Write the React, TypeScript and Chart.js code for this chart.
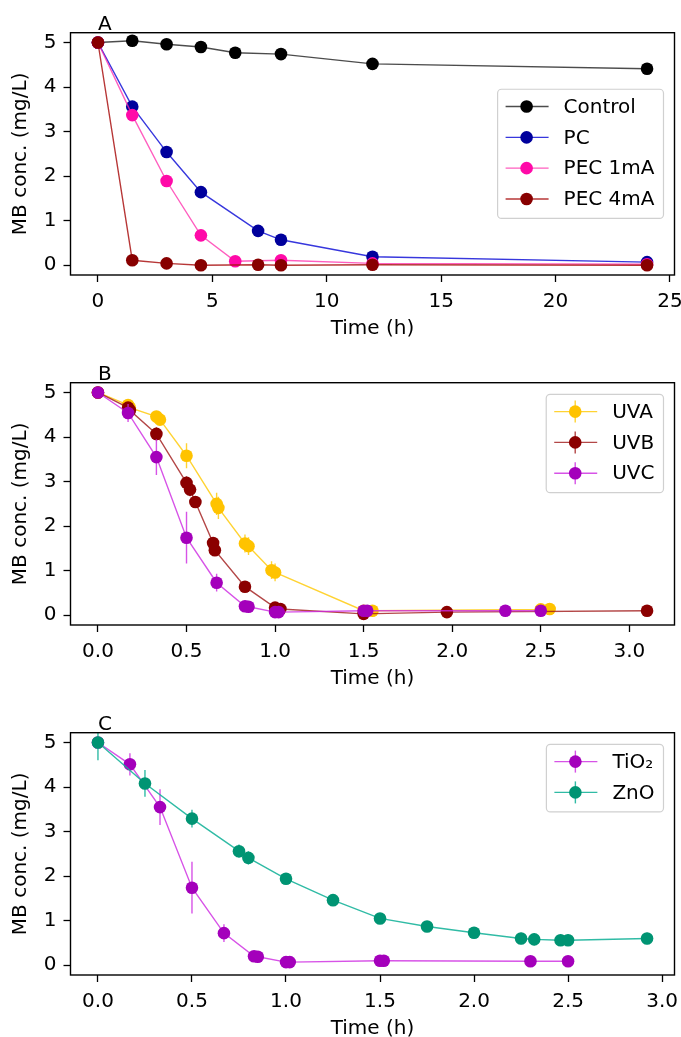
import React, { useEffect, useRef } from "react";
import { Chart, registerables } from "chart.js";

Chart.register(...registerables);

const FONT_FAMILY = "'DejaVu Sans', sans-serif";
const FONT_SIZE = 20;

// ---------- Panel A ----------
const timeControl = [0, 1.5, 3, 4.5, 6, 8, 12, 24];
const concControl = [5.0, 5.04, 4.96, 4.9, 4.77, 4.74, 4.52, 4.41];
const timePC = [0, 1.5, 3, 4.5, 7, 8, 12, 24];
const concPC = [5.0, 3.56, 2.54, 1.64, 0.77, 0.57, 0.19, 0.07];
const timePEC1 = [0, 1.5, 3, 4.5, 6, 8, 12, 24];
const concPEC1 = [5.0, 3.37, 1.89, 0.67, 0.09, 0.11, 0.04, 0.02];
const timePEC4 = [0, 1.5, 3, 4.5, 7, 8, 12, 24];
const concPEC4 = [5.0, 0.11, 0.04, 0.0, 0.01, 0.0, 0.01, 0.0];
const xTicksA = [0, 5, 10, 15, 20, 25];

// ---------- Panel B ----------
const timeUVA = [0, 0.17, 0.18, 0.33, 0.35, 0.5, 0.67, 0.68, 0.83, 0.85, 0.98, 1.0, 1.5, 1.55, 2.5, 2.55];
const concUVA = [5.0, 4.72, 4.66, 4.46, 4.39, 3.58, 2.5, 2.41, 1.61, 1.55, 1.01, 0.96, 0.1, 0.1, 0.13, 0.14];
const errUVA = [0.08, 0.12, 0.1, 0.1, 0.1, 0.28, 0.25, 0.25, 0.2, 0.2, 0.2, 0.2, 0.05, 0.05, 0.05, 0.05];
const timeUVB = [0, 0.17, 0.18, 0.33, 0.5, 0.52, 0.55, 0.65, 0.66, 0.83, 1.0, 1.03, 1.5, 1.97, 3.1];
const concUVB = [5.0, 4.66, 4.6, 4.07, 2.97, 2.82, 2.54, 1.62, 1.46, 0.64, 0.17, 0.14, 0.03, 0.07, 0.1];
const errUVB = [0.05, 0.1, 0.1, 0.15, 0.15, 0.15, 0.1, 0.12, 0.12, 0.12, 0.05, 0.05, 0.05, 0.05, 0.05];
const timeUVC = [0, 0.17, 0.33, 0.5, 0.67, 0.83, 0.85, 1.0, 1.02, 1.5, 1.52, 2.3, 2.5];
const concUVC = [5.0, 4.54, 3.55, 1.74, 0.73, 0.2, 0.19, 0.07, 0.07, 0.1, 0.1, 0.1, 0.1];
const errUVC = [0.1, 0.2, 0.4, 0.58, 0.2, 0.12, 0.1, 0.05, 0.05, 0.05, 0.05, 0.03, 0.03];
const xTicksB = [0, 0.5, 1.0, 1.5, 2.0, 2.5, 3.0];

// ---------- Panel C ----------
const timeTiO2 = [0, 0.17, 0.33, 0.5, 0.67, 0.83, 0.85, 1.0, 1.02, 1.5, 1.52, 2.3, 2.5];
const concTiO2 = [5.0, 4.51, 3.55, 1.74, 0.72, 0.2, 0.19, 0.07, 0.07, 0.1, 0.1, 0.09, 0.09];
const errTiO2 = [0.1, 0.25, 0.4, 0.58, 0.2, 0.12, 0.1, 0.05, 0.05, 0.05, 0.05, 0.03, 0.03];
const timeZnO = [0, 0.25, 0.5, 0.75, 0.8, 1.0, 1.25, 1.5, 1.75, 2.0, 2.25, 2.32, 2.46, 2.5, 2.92];
const concZnO = [5.0, 4.08, 3.29, 2.56, 2.41, 1.94, 1.46, 1.05, 0.87, 0.73, 0.6, 0.58, 0.56, 0.56, 0.6];
const errZnO = [0.4, 0.3, 0.2, 0.15, 0.15, 0.1, 0.08, 0.08, 0.06, 0.08, 0.13, 0.13, 0.13, 0.13, 0.13];
const xTicksC = [0, 0.5, 1.0, 1.5, 2.0, 2.5, 3.0];

const yTicks = [0, 1, 2, 3, 4, 5];

type Series = {
  label: string;
  x: number[];
  y: number[];
  err?: number[];
  marker: string;
  line: string;
};

type PanelProps = {
  top: number;
  letter: string;
  series: Series[];
  xMin: number;
  xMax: number;
  xTicks: number[];
  decimals: number;
  legendMode: "centerRight" | "upperRight";
};

const seriesA: Series[] = [
  { label: "Control", x: timeControl, y: concControl, marker: "#000000", line: "rgba(0,0,0,0.7)" },
  { label: "PC", x: timePC, y: concPC, marker: "#00009c", line: "rgba(20,20,215,0.85)" },
  { label: "PEC 1mA", x: timePEC1, y: concPEC1, marker: "#ff0aa8", line: "rgba(255,40,170,0.75)" },
  { label: "PEC 4mA", x: timePEC4, y: concPEC4, marker: "#880000", line: "rgba(170,20,20,0.85)" },
];

const seriesB: Series[] = [
  { label: "UVA", x: timeUVA, y: concUVA, err: errUVA, marker: "#ffc300", line: "rgba(255,200,0,0.8)" },
  { label: "UVB", x: timeUVB, y: concUVB, err: errUVB, marker: "#8b0000", line: "rgba(160,25,25,0.8)" },
  { label: "UVC", x: timeUVC, y: concUVC, err: errUVC, marker: "#a400bb", line: "rgba(205,40,225,0.8)" },
];

const seriesC: Series[] = [
  { label: "TiO₂", x: timeTiO2, y: concTiO2, err: errTiO2, marker: "#a400bb", line: "rgba(205,40,225,0.8)" },
  { label: "ZnO", x: timeZnO, y: concZnO, err: errZnO, marker: "#009473", line: "rgba(25,180,155,0.9)" },
];

const W = 681;
const H = 350;

function PanelChart(props: PanelProps) {
  const ref = useRef<HTMLCanvasElement>(null);

  useEffect(() => {
    const canvas = ref.current;
    if (!canvas) return;
    const font = { family: FONT_FAMILY, size: FONT_SIZE };
    const { series } = props;

    const extrasPlugin = {
      id: "extras",
      beforeDatasetDraw(chart: any, args: any) {
        const s = series[args.index];
        if (!s || !s.err) return;
        const ctx = chart.ctx;
        const yScale = chart.scales.y;
        const area = chart.chartArea;
        ctx.save();
        ctx.beginPath();
        ctx.rect(area.left, area.top, area.right - area.left, area.bottom - area.top);
        ctx.clip();
        ctx.strokeStyle = s.line;
        ctx.lineWidth = 1.4;
        args.meta.data.forEach((pt: any, j: number) => {
          const e = s.err![j];
          const y1 = yScale.getPixelForValue(s.y[j] - e);
          const y2 = yScale.getPixelForValue(s.y[j] + e);
          ctx.beginPath();
          ctx.moveTo(pt.x, y1);
          ctx.lineTo(pt.x, y2);
          ctx.stroke();
        });
        ctx.restore();
      },
      afterDatasetsDraw(chart: any) {
        const ctx = chart.ctx;
        const area = chart.chartArea;
        ctx.save();
        // axes frame
        ctx.strokeStyle = "#000";
        ctx.lineWidth = 1.4;
        ctx.strokeRect(area.left, area.top, area.right - area.left, area.bottom - area.top);

        // panel letter
        ctx.fillStyle = "#000";
        ctx.font = `${FONT_SIZE}px ${FONT_FAMILY}`;
        ctx.textAlign = "left";
        ctx.textBaseline = "alphabetic";
        ctx.fillText(props.letter, chart.scales.x.getPixelForValue(0), area.top - 3);

        // legend
        const rowH = 30.8;
        const n = series.length;
        let maxW = 0;
        series.forEach((s) => {
          maxW = Math.max(maxW, ctx.measureText(s.label).width);
        });
        const boxW = 66 + maxW + 9;
        const boxH = n * rowH + 6;
        const boxRight = area.right - 11;
        const boxLeft = boxRight - boxW;
        const boxTop =
          props.legendMode === "centerRight"
            ? (area.top + area.bottom) / 2 - boxH / 2
            : area.top + 11.6;
        ctx.beginPath();
        if ((ctx as any).roundRect) {
          (ctx as any).roundRect(boxLeft, boxTop, boxW, boxH, 4);
        } else {
          ctx.rect(boxLeft, boxTop, boxW, boxH);
        }
        ctx.fillStyle = "rgba(255,255,255,0.85)";
        ctx.fill();
        ctx.strokeStyle = "#d0d0d0";
        ctx.lineWidth = 1.2;
        ctx.stroke();

        series.forEach((s, i) => {
          const cy = boxTop + 17.3 + i * rowH;
          const mx = boxLeft + 29;
          ctx.strokeStyle = s.line;
          ctx.lineWidth = 1.4;
          ctx.beginPath();
          ctx.moveTo(boxLeft + 8, cy);
          ctx.lineTo(boxLeft + 51, cy);
          ctx.stroke();
          if (s.err) {
            ctx.beginPath();
            ctx.moveTo(mx, cy - 11);
            ctx.lineTo(mx, cy + 11);
            ctx.stroke();
          }
          ctx.fillStyle = s.marker;
          ctx.beginPath();
          ctx.arc(mx, cy, 6.3, 0, Math.PI * 2);
          ctx.fill();
          ctx.fillStyle = "#000";
          ctx.textAlign = "left";
          ctx.textBaseline = "middle";
          ctx.fillText(s.label, boxLeft + 66, cy + 1);
        });
        ctx.restore();
      },
    };

    const chart = new Chart(canvas, {
      type: "line",
      data: {
        datasets: series.map((s, i) => ({
          label: s.label,
          data: s.x.map((x, j) => ({ x, y: s.y[j] })),
          borderColor: s.line,
          borderWidth: 1.4,
          backgroundColor: s.marker,
          pointBackgroundColor: s.marker,
          pointBorderColor: s.marker,
          pointBorderWidth: 0,
          pointRadius: 6.3,
          pointHoverRadius: 6.3,
          tension: 0,
          fill: false,
          order: -i,
        })),
      },
      options: {
        responsive: false,
        animation: false,
        events: [],
        layout: { padding: { top: 32.7, right: 6.5, bottom: 0, left: 0 } },
        plugins: {
          legend: { display: false },
          tooltip: { enabled: false },
        },
        scales: {
          x: {
            type: "linear",
            min: props.xMin,
            max: props.xMax,
            afterBuildTicks: (scale: any) => {
              scale.ticks = props.xTicks.map((v) => ({ value: v }));
            },
            afterFit: (scale: any) => {
              scale.height = 75;
              scale.paddingLeft = 0;
              scale.paddingRight = 0;
            },
            ticks: {
              font,
              color: "#000",
              padding: 8,
              maxRotation: 0,
              autoSkip: false,
              callback: (v: any) => Number(v).toFixed(props.decimals),
            },
            grid: {
              drawOnChartArea: false,
              drawTicks: true,
              tickLength: 7,
              tickColor: "#000",
              tickWidth: 1.3,
            },
            border: { display: false },
            title: {
              display: true,
              text: "Time (h)",
              font,
              color: "#000",
              padding: { top: 0, bottom: 9 },
            },
          },
          y: {
            type: "linear",
            min: -0.22,
            max: 5.22,
            afterBuildTicks: (scale: any) => {
              scale.ticks = yTicks.map((v) => ({ value: v }));
            },
            afterFit: (scale: any) => {
              scale.width = 70.5;
              scale.paddingTop = 0;
              scale.paddingBottom = 0;
            },
            ticks: {
              font,
              color: "#000",
              padding: 7,
              autoSkip: false,
              callback: (v: any) => String(v),
            },
            grid: {
              drawOnChartArea: false,
              drawTicks: true,
              tickLength: 7,
              tickColor: "#000",
              tickWidth: 1.3,
            },
            border: { display: false },
            title: {
              display: true,
              text: "MB conc. (mg/L)",
              font,
              color: "#000",
              padding: { top: 9, bottom: 0 },
            },
          },
        },
      },
      plugins: [extrasPlugin],
    } as any);

    return () => chart.destroy();
  }, []);

  return (
    <canvas
      ref={ref}
      width={W}
      height={H}
      style={{ position: "absolute", left: 0, top: props.top, width: W, height: H, display: "block" }}
    />
  );
}

export default function App() {
  return (
    <div
      style={{
        position: "absolute",
        left: 0,
        top: 0,
        width: W,
        height: 1037,
        overflow: "hidden",
        background: "#fff",
      }}
    >
      <PanelChart top={0} letter="A" series={seriesA} xMin={-1.2} xMax={25.2} xTicks={xTicksA} decimals={0} legendMode="centerRight" />
      <PanelChart top={350} letter="B" series={seriesB} xMin={-0.155} xMax={3.255} xTicks={xTicksB} decimals={1} legendMode="upperRight" />
      <PanelChart top={700} letter="C" series={seriesC} xMin={-0.146} xMax={3.066} xTicks={xTicksC} decimals={1} legendMode="upperRight" />
    </div>
  );
}
